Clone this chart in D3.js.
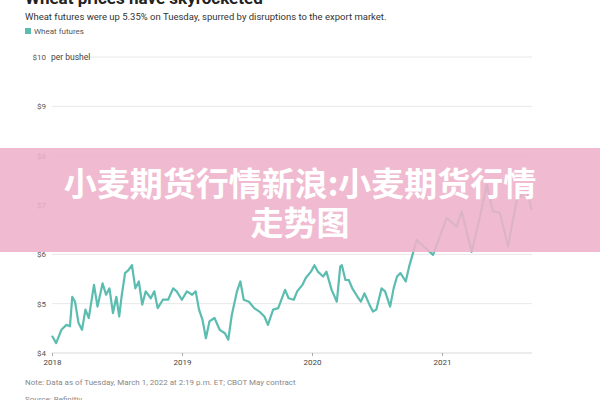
<!DOCTYPE html>
<html><head><meta charset="utf-8">
<script src="https://cdn.jsdelivr.net/npm/d3@7"></script>
<style>body{margin:0;background:#fff}svg{display:block;font-family:Roboto,"Noto Sans",sans-serif}</style>
</head><body><svg id="c" width="600" height="400"></svg>
<script>
const years=[0,.032,.072,.111,.138,.156,.177,.204,.231,.257,.283,.323,.350,.389,.416,.442,.469,.495,.517,.535,.562,.588,.615,.641,.668,.694,.721,.760,.787,.813,.853,.893,.932,.959,.999,1.038,1.078,1.105,1.131,1.158,1.184,1.211,1.250,1.290,1.330,1.356,1.383,1.423,1.449,1.475,1.515,1.555,1.595,1.634,1.661,1.701,1.740,1.793,1.820,1.860,1.886,1.926,1.952,1.992,2.019,2.045,2.085,2.111,2.151,2.191,2.217,2.230,2.257,2.283,2.310,2.350,2.376,2.403,2.442,2.469,2.495,2.535,2.562,2.601,2.628,2.654,2.681,2.721,2.747,2.773,2.805,2.931,3.036,3.113,3.152,3.228,3.292,3.344,3.392,3.446,3.508,3.575,3.652,3.69];
const prices=[4.35,4.20,4.47,4.57,4.54,5.14,5.04,4.61,4.47,4.88,4.71,5.38,4.94,5.41,5.18,5.31,4.81,5.14,4.74,5.14,5.62,5.68,5.78,5.31,5.45,4.98,5.25,5.11,5.25,4.91,5.08,5.08,5.31,5.25,5.08,5.25,5.18,5.25,4.88,4.67,4.30,4.64,4.71,4.47,4.40,4.27,4.77,5.25,5.45,5.08,5.04,4.91,4.84,4.74,4.57,4.88,4.91,5.28,5.11,5.08,5.25,5.38,5.52,5.65,5.78,5.65,5.55,5.65,5.28,5.04,5.75,5.78,5.48,5.48,5.31,5.14,5.04,5.21,4.98,4.84,4.88,5.31,5.25,4.94,5.31,5.55,5.62,5.45,5.75,5.99,6.29,5.99,6.74,6.56,6.87,6.05,6.76,7.41,6.87,6.84,6.16,7.1,7.3,6.9];
const yTicks=[4,5,6,7,8,9,10];
const xTicks=[2018,2019,2020,2021];
const svg=d3.select("#c");
const x=d3.scaleLinear().domain([2018,2021]).range([52,442]);
const y=d3.scaleLinear().domain([4,10]).range([353,57]);
const g=svg.append("g");
yTicks.forEach(t=>{
  g.append("line").attr("x1",t==10?88:52).attr("x2",532).attr("y1",y(t)).attr("y2",y(t)).attr("stroke",t==4?"#d8d8d8":"#e8e8e8").attr("stroke-width",1);
  g.append("text").attr("x",46).attr("y",y(t)+3).attr("text-anchor","end").attr("font-size",8).attr("fill","#555").text("$"+t);
});
g.append("text").attr("x",51).attr("y",y(10)+3).attr("font-size",8.5).attr("fill","#444").text("per bushel");
const xa=svg.append("g").attr("transform","translate(0,353)").call(d3.axisBottom(x).tickValues(xTicks).tickFormat(d3.format("d")).tickSize(3));
xa.select(".domain").remove();
xa.selectAll("line").attr("stroke","#aaa");
xa.selectAll("text").attr("font-size",8).attr("fill","#444").attr("font-family","Roboto");
svg.append("path").datum(years.map((v,i)=>[2018+v,prices[i]])).attr("fill","none").attr("stroke","#5bbcb0").attr("stroke-width",2.2).attr("stroke-linejoin","round")
  .attr("d",d3.line().x(d=>x(d[0])).y(d=>y(d[1])));
svg.append("text").attr("x",25).attr("y",4).attr("font-size",17).attr("font-weight","bold").attr("fill","#222").text("Wheat prices have skyrocketed");
svg.append("text").attr("x",25).attr("y",20).attr("font-size",9.5).attr("fill","#333").text("Wheat futures were up 5.35% on Tuesday, spurred by disruptions to the export market.");
svg.append("rect").attr("x",25).attr("y",28).attr("width",6).attr("height",6).attr("fill","#5bbcb0");
svg.append("text").attr("x",34).attr("y",34).attr("font-size",8).attr("fill","#555").text("Wheat futures");
svg.append("text").attr("x",25).attr("y",385).attr("font-size",8).attr("fill","#888").text("Note: Data as of Tuesday, March 1, 2022 at 2:19 p.m. ET; CBOT May contract");
svg.append("text").attr("x",25).attr("y",402).attr("font-size",8).attr("fill","#888").text("Source: Refinitiv");
svg.append("rect").attr("x",0).attr("y",148).attr("width",600).attr("height",104).attr("fill","rgba(238,178,202,0.88)");
const ov=svg.append("g").attr("font-family","'Noto Sans CJK SC'").attr("font-weight","bold").attr("font-size",33).attr("fill","#fff").attr("text-anchor","middle");
ov.append("text").attr("x",300).attr("y",196).text("小麦期货行情新浪:小麦期货行情");
ov.append("text").attr("x",300).attr("y",235).text("走势图");
</script></body></html>
